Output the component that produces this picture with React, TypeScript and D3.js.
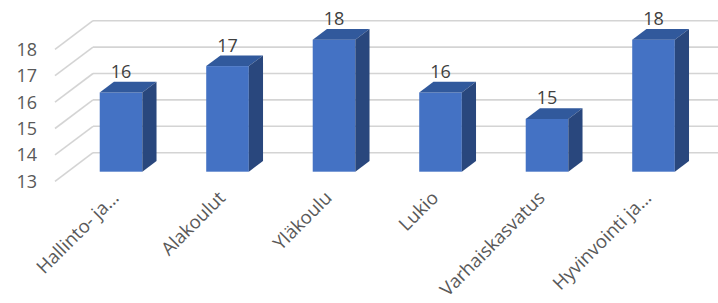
import React from "react";
import * as d3 from "d3";

const categories = ["Hallinto- ja...", "Alakoulut", "Yläkoulu", "Lukio", "Varhaiskasvatus", "Hyvinvointi ja..."];
const values = [16, 17, 18, 16, 15, 18];
const ticks = [13, 14, 15, 16, 17, 18];

const W = 718;
const H = 303;
// oblique depth: full offset from the front plane to the back wall
const DX = 38;
const DY = -28.6;
const zFront = 0.336;
const zBack = 0.71;

const App = () => {
  const x = d3.scaleBand<string>()
    .domain(categories)
    .range([55, 694])
    .paddingInner(0.6)
    .paddingOuter(0.3);

  const y = d3.scaleLinear().domain([13, 18]).range([181.3, 49.3]);

  const font = "'Open Sans', 'Noto Sans', sans-serif";

  const bars = categories.map((c, i) => {
    const v = values[i];
    const x0 = (x(c) as number) + DX * zFront;
    const x1 = x0 + x.bandwidth();
    const yTop = y(v) + DY * zFront;
    const yBot = y(13) + DY * zFront;
    const ddx = DX * (zBack - zFront);
    const ddy = DY * (zBack - zFront);
    const top = `M${x0},${yTop}L${x0 + ddx},${yTop + ddy}L${x1 + ddx},${yTop + ddy}L${x1},${yTop}Z`;
    const side = `M${x1},${yTop}L${x1 + ddx},${yTop + ddy}L${x1 + ddx},${yBot + ddy}L${x1},${yBot}Z`;
    return (
      <g key={c}>
        <rect x={x0} y={yTop} width={x.bandwidth()} height={yBot - yTop} fill="#4472C4" />
        <path d={top} fill="#31599C" />
        <path d={side} fill="#29477D" />
        <text x={(x0 + x1) / 2} y={yTop - 14.5} textAnchor="middle" fontSize={18} fill="#404040" fontFamily={font}>
          {v}
        </text>
      </g>
    );
  });

  return (
    <svg width={W} height={H} style={{ position: "absolute", left: 0, top: 0 }}>
      <rect width={W} height={H} fill="#fff" />
      {ticks.map((t) => (
        <g key={t}>
          <line x1={x.range()[0]} y1={y(t)} x2={x.range()[0] + DX} y2={y(t) + DY} stroke="#d4d4d4" strokeWidth={1.6} />
          <line x1={x.range()[0] + DX} y1={y(t) + DY} x2={x.range()[1] + DX} y2={y(t) + DY} stroke="#d4d4d4" strokeWidth={1.6} />
          <text x={37} y={y(t) + 6.5} textAnchor="end" fontSize={18} fill="#595959" fontFamily={font}>
            {t}
          </text>
        </g>
      ))}
      {bars}
      {categories.map((c) => {
        const cx = (x(c) as number) + DX * zFront + x.bandwidth() / 2 - 1;
        const cy = 199;
        return (
          <text key={c} transform={`translate(${cx},${cy}) rotate(-45)`} textAnchor="end" fontSize={18.5} fill="#595959" fontFamily={font}>
            {c}
          </text>
        );
      })}
    </svg>
  );
};

export default App;
